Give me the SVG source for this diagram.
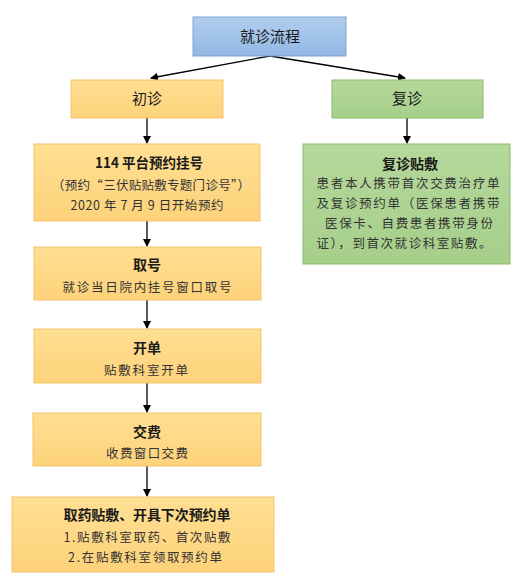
<svg xmlns="http://www.w3.org/2000/svg" width="519" height="583" viewBox="0 0 519 583">
<style>
.t{font-family:"Noto Sans CJK SC","Noto Sans",sans-serif;font-size:14px;font-weight:bold;fill:#1a1a1a;text-anchor:middle}
.s{font-family:"Noto Sans CJK SC","Noto Sans",sans-serif;font-size:12.5px;fill:#333;text-anchor:middle}
.y{fill:url(#gy);stroke:#f2c46c;stroke-width:1}
.g{fill:url(#gg);stroke:#8dba6e;stroke-width:1}
.b{fill:url(#gb);stroke:#7fa3cf;stroke-width:1}
.c{stroke:#000;stroke-width:1.3;fill:none;marker-end:url(#ah)}
</style>
<defs>
<linearGradient id="gy" x1="0" y1="0" x2="0" y2="1"><stop offset="0" stop-color="#ffdf93"/><stop offset="1" stop-color="#fdd27a"/></linearGradient>
<linearGradient id="gg" x1="0" y1="0" x2="0" y2="1"><stop offset="0" stop-color="#b5d89c"/><stop offset="1" stop-color="#a6cf8a"/></linearGradient>
<linearGradient id="gb" x1="0" y1="0" x2="0" y2="1"><stop offset="0" stop-color="#b0cdee"/><stop offset="1" stop-color="#93b8e4"/></linearGradient>
<marker id="ah" markerWidth="8" markerHeight="8" refX="7" refY="4" orient="auto" markerUnits="userSpaceOnUse"><path d="M0,0 L8,4 L0,8 z" fill="#000"/></marker>
</defs>
<g id="connectors">
<path class="c" d="M270,56 L151,78"/>
<path class="c" d="M270,56 L405,78"/>
<path class="c" d="M147,118 L147,143"/>
<path class="c" d="M407,118 L407,143"/>
<path class="c" d="M147,221 L147,246"/>
<path class="c" d="M147,300 L147,328"/>
<path class="c" d="M147,383 L147,412"/>
<path class="c" d="M147,466 L147,496"/>
</g>
<g id="n-start"><rect class="b" x="193" y="17" width="153" height="39"/><text class="t" x="270" y="42" font-weight="normal" style="font-weight:normal;font-size:15px">就诊流程</text></g>
<g id="n-chuzhen"><rect class="y" x="71" y="80" width="152" height="38"/><text class="t" x="147" y="104" style="font-weight:normal;font-size:15px">初诊</text></g>
<g id="n-fuzhen"><rect class="g" x="332" y="80" width="151" height="38"/><text class="t" x="407" y="104" style="font-weight:normal;font-size:15px">复诊</text></g>
<g id="n-114"><rect class="y" x="34" y="144" width="226" height="77"/>
<text class="t" x="149" y="168" textLength="108" lengthAdjust="spacingAndGlyphs">114 平台预约挂号</text>
<text class="s" x="151" y="190" textLength="198" lengthAdjust="spacing">（预约“三伏贴贴敷专题门诊号”）</text>
<text class="s" x="147" y="210" textLength="153" lengthAdjust="spacing">2020 年 7 月 9 日开始预约</text></g>
<g id="n-fuzhen-tiefu"><rect class="g" x="303" y="144" width="207" height="120"/>
<text class="t" x="410" y="169">复诊贴敷</text>
<text class="s" x="408" y="188" textLength="183" lengthAdjust="spacing">患者本人携带首次交费治疗单</text>
<text class="s" x="408" y="208" textLength="183" lengthAdjust="spacing">及复诊预约单（医保患者携带</text>
<text class="s" x="409" y="228" textLength="168" lengthAdjust="spacing">医保卡、自费患者携带身份</text>
<text class="s" x="404" y="248" textLength="175" lengthAdjust="spacing">证），到首次就诊科室贴敷。</text></g>
<g id="n-quhao"><rect class="y" x="34" y="247" width="227" height="53"/>
<text class="t" x="147" y="270">取号</text>
<text class="s" x="147" y="292" textLength="169" lengthAdjust="spacing">就诊当日院内挂号窗口取号</text></g>
<g id="n-kaidan"><rect class="y" x="34" y="329" width="227" height="54"/>
<text class="t" x="147" y="353">开单</text>
<text class="s" x="146" y="375" textLength="84" lengthAdjust="spacing">贴敷科室开单</text></g>
<g id="n-jiaofei"><rect class="y" x="33" y="413" width="228" height="53"/>
<text class="t" x="147" y="437">交费</text>
<text class="s" x="147" y="458" textLength="82" lengthAdjust="spacing">收费窗口交费</text></g>
<g id="n-quyao"><rect class="y" x="12" y="497" width="262" height="75"/>
<text class="t" x="147" y="520" textLength="167" lengthAdjust="spacing">取药贴敷、开具下次预约单</text>
<text class="s" x="147" y="542" textLength="167" lengthAdjust="spacing">1.贴敷科室取药、首次贴敷</text>
<text class="s" x="145" y="562" textLength="154" lengthAdjust="spacing">2.在贴敷科室领取预约单</text></g>
</svg>
